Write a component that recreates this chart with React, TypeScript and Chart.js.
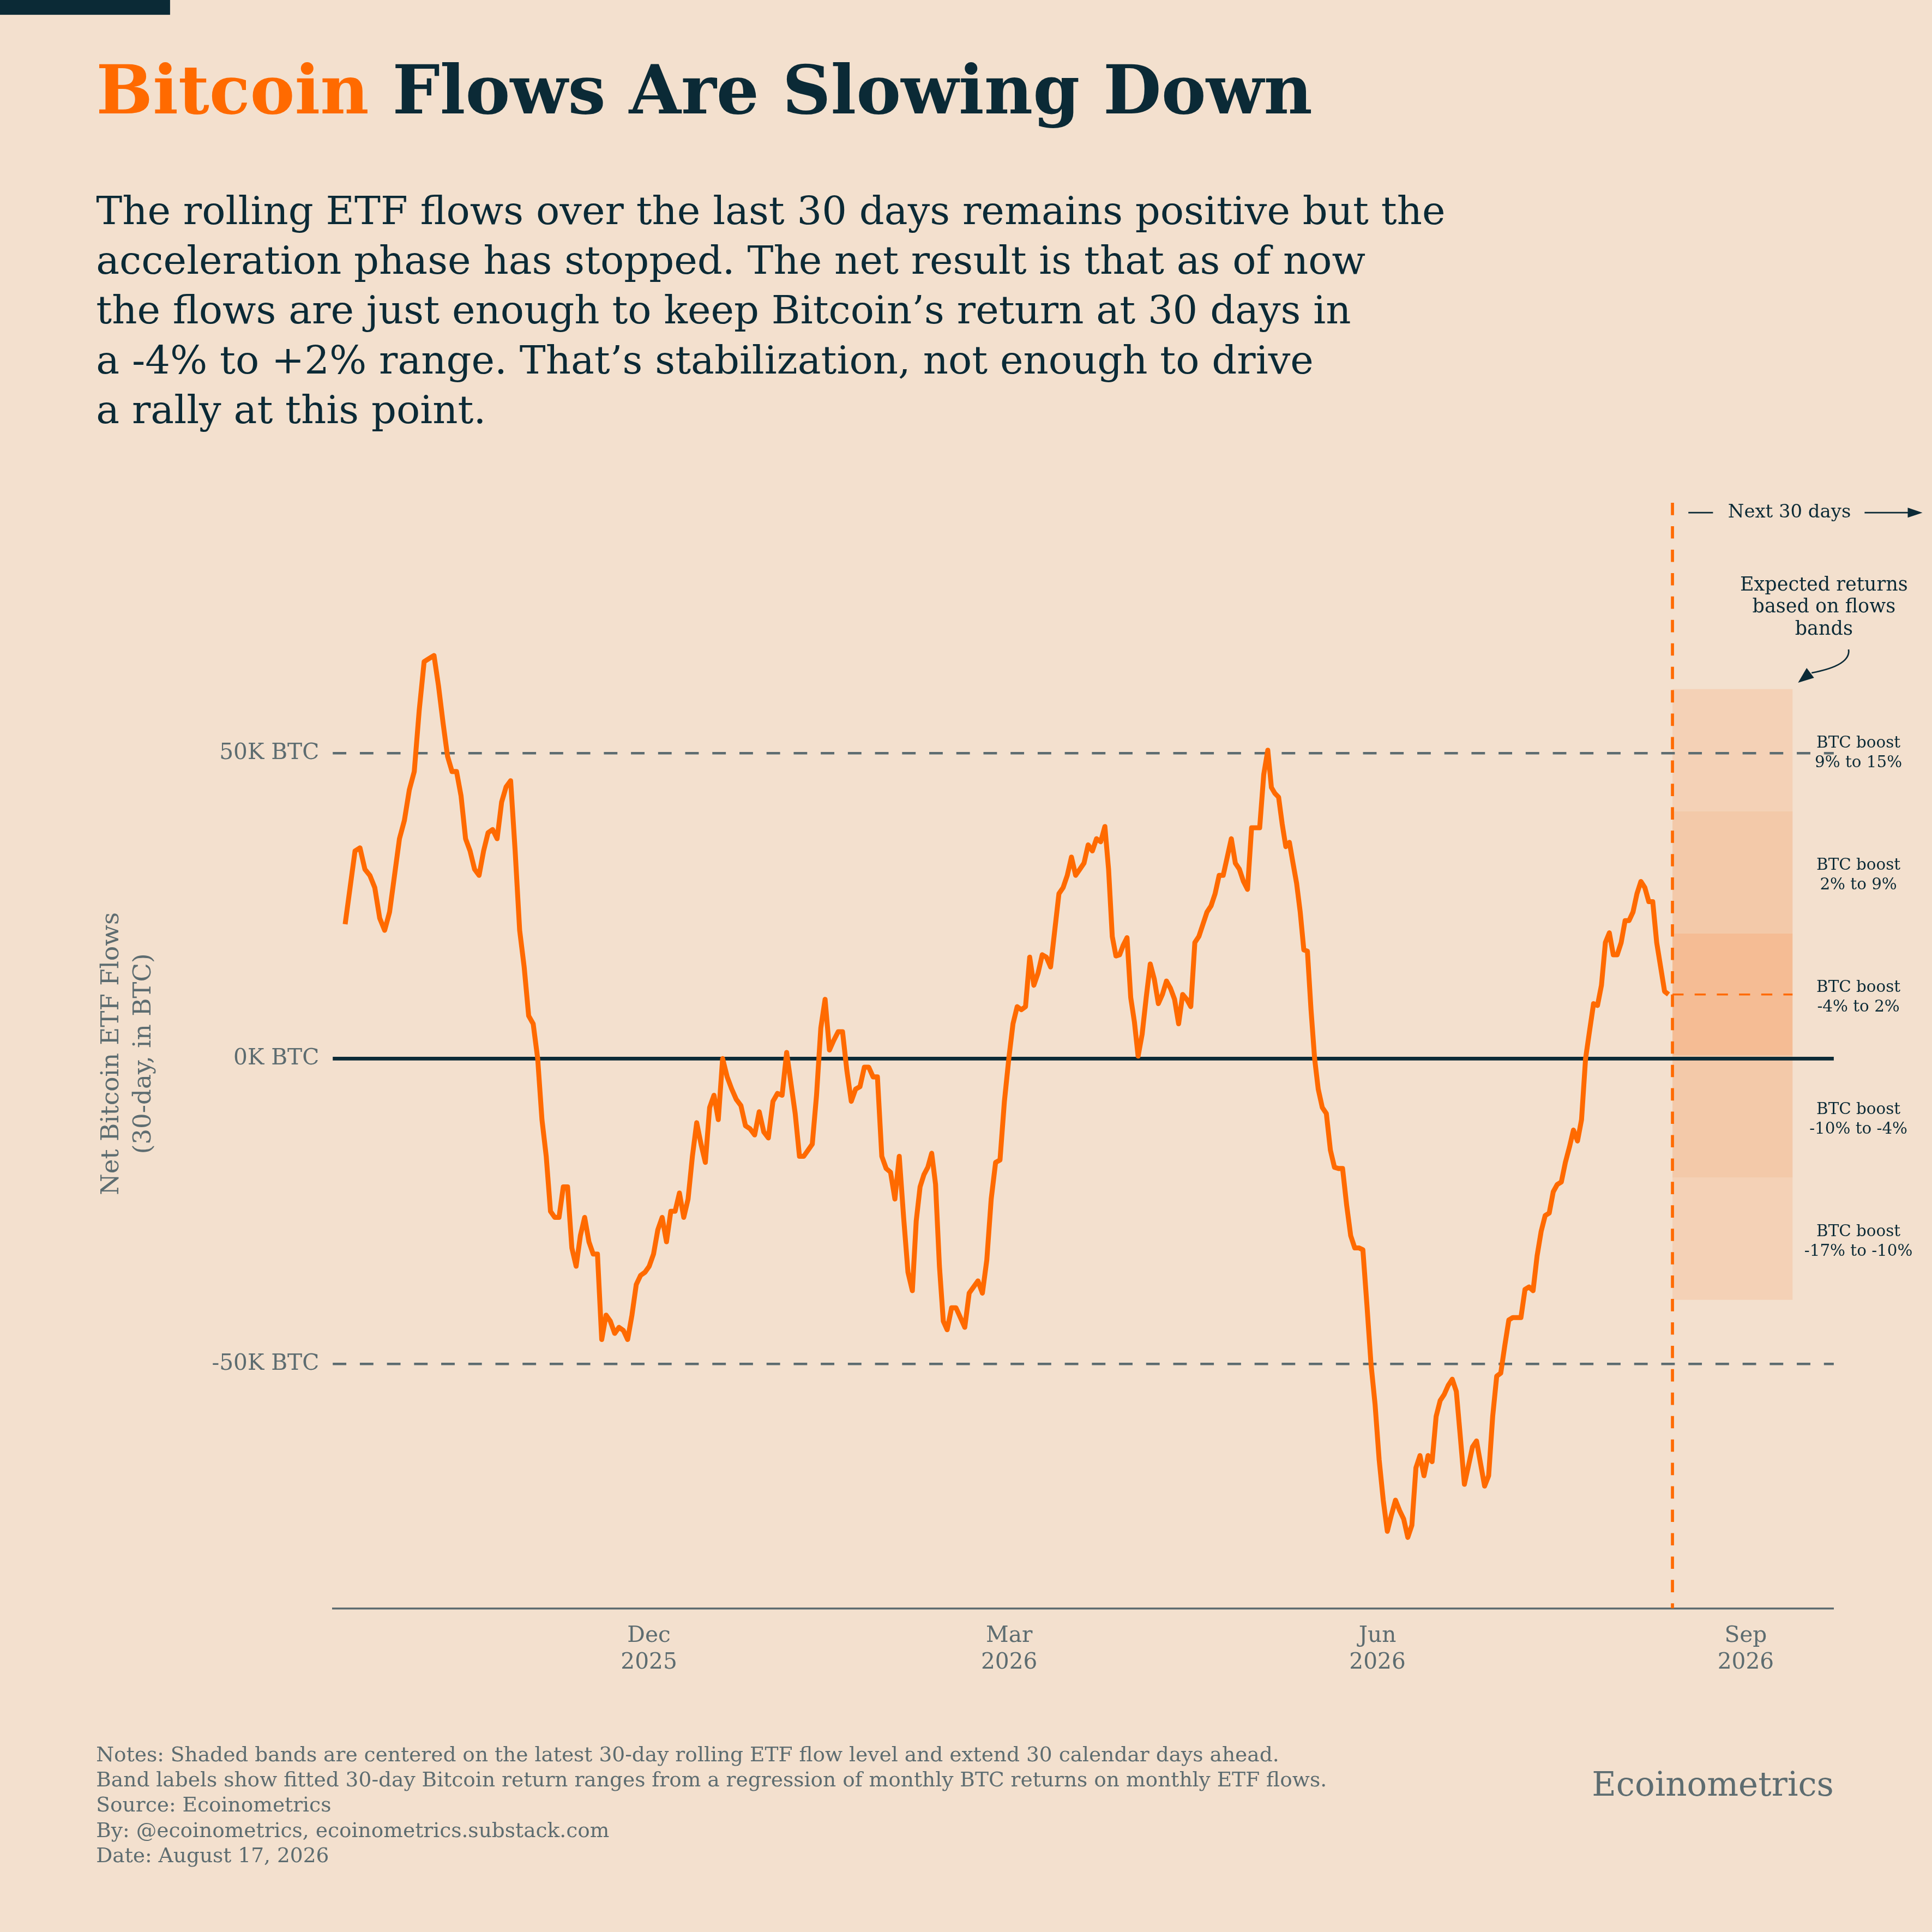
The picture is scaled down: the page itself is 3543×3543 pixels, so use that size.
import React, { useEffect, useRef } from "react";
import { Chart, registerables } from "chart.js";

Chart.register(...registerables);

// 30-day rolling net ETF flows, thousands of BTC, roughly daily from mid Sep 2025 to mid Aug 2026
const flows = [
  22, 28, 34, 34.5, 31, 30, 28, 23, 21, 24, 30, 36, 39, 44, 47, 57, 65, 65.5, 66, 61, 55, 49.5, 47, 47, 43, 36, 34, 31, 30, 34,
  37, 37.5, 36, 42, 44.5, 45.5, 34, 21, 15, 7, 5.7, 0, -10, -16, -25, -26, -26, -21, -21, -31, -34, -29, -26, -30, -32, -32,
  -46, -42, -43, -45, -44, -44.5, -46, -42, -37, -35.5, -35, -34, -32, -28, -26, -30, -25, -25, -22, -26, -23, -16, -10.5,
  -14, -17, -8, -6, -10, 0, -3, -5, -6.7, -7.7, -11, -11.5, -12.5, -8.7, -12, -13, -7, -5.7, -6, 1, -4, -9, -16, -16, -15,
  -14, -6, 5, 9.7, 1.4, 3, 4.4, 4.4, -2, -7, -5, -4.6, -1.4, -1.4, -3, -3, -16, -18, -18.6, -23, -16, -26, -35, -38, -26.6,
  -21, -19, -17.8, -15.5, -20.6, -34, -43, -44.4, -40.8, -40.8, -42.4, -44, -38.4, -37.4, -36.4, -38.4, -33, -23, -17, -16.6,
  -7, 0, 5.7, 8.5, 8, 8.5, 16.6, 12, 14, 17, 16.6, 15, 21, 27, 28, 30, 33, 30, 31, 32, 35, 34, 36, 35.5, 38, 31, 20, 16.8,
  17, 18.6, 19.8, 10, 6, 0.4, 4, 10, 15.5, 13, 9, 10.5, 12.7, 11.5, 9.7, 5.7, 10.5, 9.7, 8.5, 19, 20, 22, 24, 25, 27, 30, 30,
  33, 36, 32, 31, 29, 27.7, 37.8, 37.8, 37.8, 46.5, 50.5, 44.4, 43.4, 42.8, 38.4, 34.7, 35.4, 32, 28.7, 24, 17.8, 17.6, 8, 0,
  -5, -8, -9, -15, -17.8, -18, -18, -24, -29, -31, -31, -31.3, -40.4, -50, -56.6, -65.7, -72.3, -77.4, -74.7, -72.3, -74,
  -75.4, -78.4, -76.4, -67, -65, -68.3, -65, -66, -58.6, -56, -55, -53.5, -52.5, -54.5, -62, -69.7, -66.7, -63.6, -62.6,
  -66.3, -70, -68.3, -58.6, -52, -51.5, -47, -42.8, -42.4, -42.4, -42.4, -37.8, -37.4, -38, -32.3, -28.3, -25.7, -25.3,
  -21.8, -20.6, -20.2, -17, -14.5, -11.7, -13.5, -10, 0, 4.6, 9, 8.7, 12, 19, 20.6, 17, 17, 19, 22.6, 22.6, 24, 27, 29, 28,
  25.7, 25.7, 19, 15, 11, 10.5,
];

// dates of known turning points (index into flows -> days since 2025-09-13)
const anchorIdx = [0, 18, 41, 56, 84, 98, 107, 127, 136, 150, 173, 182, 214, 228, 242, 251, 295, 316];
const anchorDay = [3.1, 25.3, 51.2, 67.2, 97.4, 113.4, 123, 144.8, 153.5, 168.9, 192.9, 201.2, 233.6, 246.2, 260.4, 269.6, 314, 334.7];

const axisEnd = 375;
const tickDays = [79, 169, 261, 353];
const tickLabels = [["Dec", "2025"], ["Mar", "2026"], ["Jun", "2026"], ["Sep", "2026"]];
const yTicks = [-50, 0, 50];

const latestDay = 334.7;
const latestFlow = 10.5;
const bandEnd = 364.7;
const bandEdges = [60.5, 40.5, 20.5, 0.5, -19.5, -39.5];
const bandLabels = [
  ["BTC boost", "9% to 15%"],
  ["BTC boost", "2% to 9%"],
  ["BTC boost", "-4% to 2%"],
  ["BTC boost", "-10% to -4%"],
  ["BTC boost", "-17% to -10%"],
];
const bandColors = ["#f4d1b6", "#f3c9a9", "#f5bc94", "#f3c9a9", "#f4d1b6"];

const subtitle = [
  "The rolling ETF flows over the last 30 days remains positive but the",
  "acceleration phase has stopped. The net result is that as of now",
  "the flows are just enough to keep Bitcoin\u2019s return at 30 days in",
  "a -4% to +2% range. That\u2019s stabilization, not enough to drive",
  "a rally at this point.",
];
const notes = [
  "Notes: Shaded bands are centered on the latest 30-day rolling ETF flow level and extend 30 calendar days ahead.",
  "Band labels show fitted 30-day Bitcoin return ranges from a regression of monthly BTC returns on monthly ETF flows.",
  "Source: Ecoinometrics",
  "By: @ecoinometrics, ecoinometrics.substack.com",
  "Date: August 17, 2026",
];

const BG = "#f3e0ce";
const DARK = "#0b2a36";
const GRAY = "#5d6c70";
const ORANGE = "#ff6a00";
const SERIF = "'DejaVu Serif', serif";

const S = 2.26; // reference layout unit

function dayOf(i: number): number {
  for (let k = 0; k < anchorIdx.length - 1; k++) {
    if (i <= anchorIdx[k + 1]) {
      const t = (i - anchorIdx[k]) / (anchorIdx[k + 1] - anchorIdx[k]);
      return anchorDay[k] + t * (anchorDay[k + 1] - anchorDay[k]);
    }
  }
  return anchorDay[anchorDay.length - 1];
}

const App: React.FC = () => {
  const ref = useRef<HTMLCanvasElement>(null);

  useEffect(() => {
    if (!ref.current) return;
    const points = flows.map((v, i) => ({ x: dayOf(i), y: v }));

    const decor = {
      id: "decor",
      beforeDraw(chart: any) {
        const c = chart.ctx;
        c.save();
        c.fillStyle = BG;
        c.fillRect(0, 0, chart.width, chart.height);
        c.fillStyle = DARK;
        c.fillRect(0, 0, 138 * S, 12 * S);
        // title
        c.textBaseline = "alphabetic";
        c.textAlign = "left";
        c.font = `bold ${54 * S}px ${SERIF}`;
        const a = "Bitcoin ";
        const b = "Flows Are Slowing Down";
        const tw = c.measureText(a + b).width;
        const k = (987 * S) / tw;
        c.font = `bold ${54 * S * k}px ${SERIF}`;
        c.fillStyle = ORANGE;
        c.fillText(a, 78 * S, 92 * S);
        const aw = c.measureText(a).width;
        c.fillStyle = DARK;
        c.fillText(b, 78 * S + aw, 92 * S);
        // subtitle
        c.font = `${33 * S}px ${SERIF}`;
        const k2 = (1095 * S) / c.measureText(subtitle[0]).width;
        c.font = `${33 * S * k2}px ${SERIF}`;
        subtitle.forEach((l, i) => c.fillText(l, 78 * S, (182 + i * 40.3) * S));
        // notes
        c.fillStyle = GRAY;
        c.font = `${15 * S}px ${SERIF}`;
        const k3 = (960 * S) / c.measureText(notes[0]).width;
        c.font = `${15 * S * k3}px ${SERIF}`;
        notes.forEach((l, i) => c.fillText(l, 78 * S, (1429 + i * 20.5) * S));
        c.textAlign = "right";
        c.font = `${27 * S}px ${SERIF}`;
        c.fillText("Ecoinometrics", 1488 * S, 1457 * S);
        // y title
        c.save();
        c.translate(96 * S, 855 * S);
        c.rotate(-Math.PI / 2);
        c.textAlign = "center";
        c.font = `${20 * S}px ${SERIF}`;
        c.fillText("Net Bitcoin ETF Flows", 0, 0);
        c.fillText("(30-day, in BTC)", 0, 26 * S);
        c.restore();
        c.restore();
      },
      beforeDatasetsDraw(chart: any) {
        const c = chart.ctx;
        const x = chart.scales.x;
        const y = chart.scales.y;
        const area = chart.chartArea;
        const x0 = x.getPixelForValue(latestDay);
        const x1 = x.getPixelForValue(bandEnd);
        c.save();
        for (let i = 0; i < bandColors.length; i++) {
          const t = y.getPixelForValue(bandEdges[i]);
          const bt = i + 1 < bandEdges.length ? y.getPixelForValue(bandEdges[i + 1]) : y.getPixelForValue(bandEdges[i] - 20);
          c.fillStyle = bandColors[i];
          c.fillRect(x0, t, x1 - x0, bt - t);
          c.fillStyle = DARK;
          c.textAlign = "center";
          c.font = `${13 * S}px ${SERIF}`;
          const cy = (t + bt) / 2;
          c.fillText(bandLabels[i][0], 1508 * S, cy - 2 * S);
          c.fillText(bandLabels[i][1], 1508 * S, cy + 14 * S);
        }
        // ±50K dashed lines
        c.strokeStyle = GRAY;
        c.lineWidth = 2 * S;
        c.setLineDash([11 * S, 11 * S]);
        [50, -50].forEach((v) => {
          const py = y.getPixelForValue(v);
          c.beginPath();
          c.moveTo(area.left, py);
          c.lineTo(area.right, py);
          c.stroke();
        });
        // zero line
        c.setLineDash([]);
        c.strokeStyle = DARK;
        c.lineWidth = 3 * S;
        const z = y.getPixelForValue(0);
        c.beginPath();
        c.moveTo(area.left, z);
        c.lineTo(area.right, z);
        c.stroke();
        // latest level
        c.strokeStyle = ORANGE;
        c.lineWidth = 1.5 * S;
        c.setLineDash([9 * S, 9 * S]);
        const ly = y.getPixelForValue(latestFlow);
        c.beginPath();
        c.moveTo(x0, ly);
        c.lineTo(x1, ly);
        c.stroke();
        // now line
        c.lineWidth = 2.5 * S;
        c.setLineDash([10 * S, 9 * S]);
        c.beginPath();
        c.moveTo(x0, area.top);
        c.lineTo(x0, area.bottom);
        c.stroke();
        c.setLineDash([]);
        // annotations
        c.fillStyle = DARK;
        c.strokeStyle = DARK;
        c.lineWidth = 1.2 * S;
        c.font = `${15 * S}px ${SERIF}`;
        c.textAlign = "center";
        c.textBaseline = "middle";
        c.fillText("Next 30 days", 1452 * S, 416 * S);
        c.beginPath();
        c.moveTo(1370 * S, 416 * S);
        c.lineTo(1390 * S, 416 * S);
        c.moveTo(1513 * S, 416 * S);
        c.lineTo(1552 * S, 416 * S);
        c.stroke();
        c.beginPath();
        c.moveTo(1560 * S, 416 * S);
        c.lineTo(1548 * S, 412 * S);
        c.lineTo(1548 * S, 420 * S);
        c.closePath();
        c.fill();
        c.font = `${15.5 * S}px ${SERIF}`;
        c.fillText("Expected returns", 1480 * S, 475 * S);
        c.fillText("based on flows", 1480 * S, 493 * S);
        c.fillText("bands", 1480 * S, 511 * S);
        c.beginPath();
        c.moveTo(1500 * S, 527 * S);
        c.quadraticCurveTo(1502 * S, 540 * S, 1470 * S, 546 * S);
        c.stroke();
        c.beginPath();
        c.moveTo(1459 * S, 554 * S);
        c.lineTo(1466 * S, 542 * S);
        c.lineTo(1472 * S, 550 * S);
        c.closePath();
        c.fill();
        c.restore();
      },
    };

    const chart = new Chart(ref.current, {
      type: "line",
      data: {
        datasets: [
          {
            data: points,
            borderColor: ORANGE,
            borderWidth: 4 * S,
            pointRadius: 0,
            tension: 0,
            borderJoinStyle: "round",
          },
        ],
      },
      options: {
        animation: false,
        responsive: false,
        devicePixelRatio: 1,
        layout: { padding: { top: 408 * S, right: 3543 - 1488 * S, left: 0, bottom: 0 } },
        plugins: { legend: { display: false }, tooltip: { enabled: false } },
        scales: {
          x: {
            type: "linear",
            min: 0,
            max: axisEnd,
            grid: { display: false, drawTicks: false },
            border: { color: GRAY, width: 1.5 * S },
            afterBuildTicks: (s: any) => {
              s.ticks = tickDays.map((v) => ({ value: v }));
            },
            afterFit: (s: any) => {
              s.height = 3543 - 1305 * S;
            },
            ticks: {
              autoSkip: false,
              maxRotation: 0,
              padding: 12 * S,
              color: GRAY,
              font: { family: "DejaVu Serif", size: 18 * S, lineHeight: 1.2 },
              callback: (v: any) => {
                const i = tickDays.indexOf(v);
                return i >= 0 ? tickLabels[i] : "";
              },
            },
          },
          y: {
            min: -90,
            max: 91,
            grid: { display: false, drawTicks: false },
            border: { display: false },
            afterBuildTicks: (s: any) => {
              s.ticks = yTicks.map((v) => ({ value: v }));
            },
            afterFit: (s: any) => {
              s.width = 270 * S;
            },
            ticks: {
              padding: 11 * S,
              color: GRAY,
              font: { family: "DejaVu Serif", size: 18 * S },
              callback: (v: any) => `${v}K BTC`,
            },
          },
        },
      },
      plugins: [decor],
    });
    return () => chart.destroy();
  }, []);

  return (
    <div style={{ position: "absolute", left: 0, top: 0 }}>
      <canvas ref={ref} width={3543} height={3543} style={{ width: 3543, height: 3543 }} />
    </div>
  );
};

export default App;
